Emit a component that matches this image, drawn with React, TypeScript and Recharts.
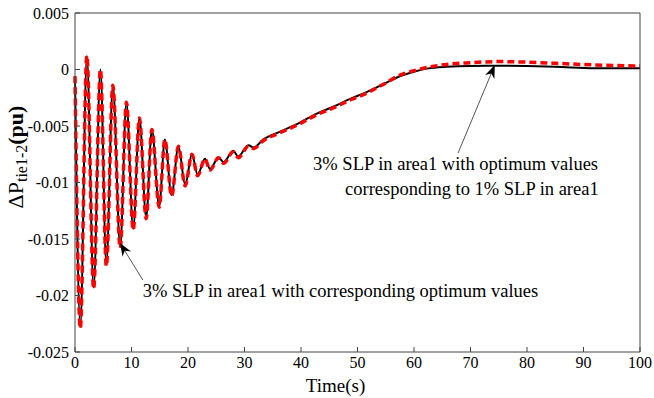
import React from "react";
import {
  LineChart,
  Line,
  XAxis,
  YAxis,
  ReferenceLine,
} from "recharts";

// time samples (s), picked at peaks / troughs of the swing and along the ramp
const time = [
  0, 0.94, 2.1, 3.3, 4.5, 5.55, 6.7, 8.0, 9.1, 10.3, 11.4, 12.6, 13.6, 14.9,
  15.9, 17.1, 18.3, 19.5, 20.7, 21.7, 23.0, 23.9, 25.4, 26.3, 28.0, 28.9, 30.7,
  31.6, 33.3, 36.3, 39.8, 42.8, 45.7, 48.7, 51.6, 54.6, 57.5, 60.0, 62.5, 65.8,
  70, 75, 80, 85, 92, 100,
];

// 3% SLP in area1 with corresponding optimum values (black)
const blackVals = [
  -0.0006, -0.0228, 0.0012, -0.0193, 0.0, -0.0173, -0.0014, -0.0157, -0.0029,
  -0.0141, -0.0043, -0.0131, -0.0053, -0.0121, -0.0062, -0.0111, -0.0068,
  -0.0102, -0.0075, -0.0093, -0.0079, -0.0088, -0.0078, -0.0082, -0.0072,
  -0.0077, -0.0067, -0.0069, -0.0062, -0.0055, -0.0047, -0.0039, -0.0033,
  -0.0026, -0.002, -0.0013, -0.0006, -0.0002, 0.0001, 0.00025, 0.00032,
  0.00033, 0.0003, 0.00024, 0.00012, 0.0001,
];

// 3% SLP in area1 with optimum values of 1% SLP (red dashed)
const redVals = [
  -0.0006, -0.0229, 0.0012, -0.0194, 0.0, -0.0174, -0.0014, -0.0158, -0.0029,
  -0.0142, -0.0043, -0.0132, -0.0053, -0.0122, -0.0062, -0.0112, -0.0068,
  -0.0103, -0.0075, -0.0094, -0.0079, -0.0089, -0.0078, -0.0083, -0.0073,
  -0.0078, -0.0068, -0.007, -0.0063, -0.0056, -0.0048, -0.004, -0.0034,
  -0.0027, -0.0021, -0.0013, -0.0005, -0.0001, 0.0002, 0.00045, 0.0006,
  0.0007, 0.00065, 0.00055, 0.0004, 0.0003,
];

const xTicks = [0, 10, 20, 30, 40, 50, 60, 70, 80, 90, 100];
const yTicks = [-0.025, -0.02, -0.015, -0.01, -0.005, 0, 0.005];

const data = time.map((t, i) => ({ t, black: blackVals[i], red: redVals[i] }));

const font = "'Liberation Serif', 'Times New Roman', serif";
const axisColor = "#444";

const Arrow = (props: any) => {
  const { x1, y1, x2, y2, lines } = props;
  const ang = Math.atan2(y2 - y1, x2 - x1);
  const len = 13;
  const w = 5;
  const bx = x2 - len * Math.cos(ang);
  const by = y2 - len * Math.sin(ang);
  const nx = x2 - len * 0.7 * Math.cos(ang);
  const ny = y2 - len * 0.7 * Math.sin(ang);
  const px = -Math.sin(ang) * w;
  const py = Math.cos(ang) * w;
  return (
    <g>
      <line x1={x1} y1={y1} x2={nx} y2={ny} stroke="#555" strokeWidth={1} />
      <polygon
        points={`${x2},${y2} ${bx + px},${by + py} ${nx},${ny} ${bx - px},${by - py}`}
        fill="#000"
      />
      {lines.map((l: any, i: number) => (
        <text
          key={i}
          x={x1 + l.dx}
          y={y1 + l.dy}
          fontFamily={font}
          fontSize={18.5}
          fill="#000"
        >
          {l.text}
        </text>
      ))}
    </g>
  );
};

const YLabel = () => (
  <text
    transform="translate(23,157) rotate(-90)"
    textAnchor="middle"
    fontFamily={font}
    fontSize={22}
    fill="#000"
  >
    ΔP
    <tspan fontSize={16} dy={4}>
      tie1-2
    </tspan>
    <tspan fontWeight="bold" dy={-4}>
      (pu)
    </tspan>
  </text>
);

export default function App() {
  return (
    <div style={{ position: "absolute", left: 0, top: 0, background: "#fff" }}>
      <LineChart
        width={654}
        height={398}
        data={data}
        margin={{ top: 0, right: 0, bottom: 0, left: 0 }}
      >
        <XAxis
          dataKey="t"
          type="number"
          domain={[0, 100]}
          ticks={xTicks}
          height={46}
          tickSize={-5}
          tickMargin={10}
          stroke={axisColor}
          tick={{ fill: "#000", fontSize: 16, fontFamily: font }}
          label={{
            value: "Time(s)",
            position: "insideBottom",
            offset: 6,
            dx: -22,
            fill: "#000",
            fontSize: 19,
            fontFamily: font,
          }}
        />
        <XAxis
          xAxisId="top"
          orientation="top"
          dataKey="t"
          type="number"
          domain={[0, 100]}
          ticks={xTicks}
          height={13}
          tickSize={-5}
          tick={false}
          stroke={axisColor}
        />
        <YAxis
          type="number"
          domain={[-0.025, 0.005]}
          ticks={yTicks}
          width={75}
          tickSize={-5}
          tickMargin={11}
          stroke={axisColor}
          tick={{ fill: "#000", fontSize: 16, fontFamily: font }}
          label={{ content: () => <YLabel /> }}
        />
        <YAxis
          yAxisId="right"
          orientation="right"
          type="number"
          domain={[-0.025, 0.005]}
          ticks={yTicks}
          width={14}
          tickSize={-5}
          tick={false}
          stroke={axisColor}
        />
        <Line
          type="monotone"
          dataKey="black"
          stroke="#000"
          strokeWidth={2}
          dot={false}
          isAnimationActive={false}
        />
        <Line
          type="monotone"
          dataKey="red"
          stroke="#ff0000"
          strokeWidth={3.5}
          strokeDasharray="7 4"
          dot={false}
          isAnimationActive={false}
        />
        <ReferenceLine
          segment={[
            { x: 12.0, y: -0.01863 },
            { x: 7.96, y: -0.01535 },
          ]}
          shape={(p: any) => (
            <Arrow
              {...p}
              lines={[
                {
                  dx: 0,
                  dy: 17,
                  text: "3% SLP in area1 with corresponding optimum values",
                },
              ]}
            />
          )}
        />
        <ReferenceLine
          segment={[
            { x: 67.8, y: -0.00739 },
            { x: 74.3, y: 0.0004 },
          ]}
          shape={(p: any) => (
            <Arrow
              {...p}
              lines={[
                {
                  dx: -145,
                  dy: 17,
                  text: "3% SLP in area1 with optimum values",
                },
                {
                  dx: -113,
                  dy: 42,
                  text: "corresponding to 1% SLP in area1",
                },
              ]}
            />
          )}
        />
      </LineChart>
    </div>
  );
}
